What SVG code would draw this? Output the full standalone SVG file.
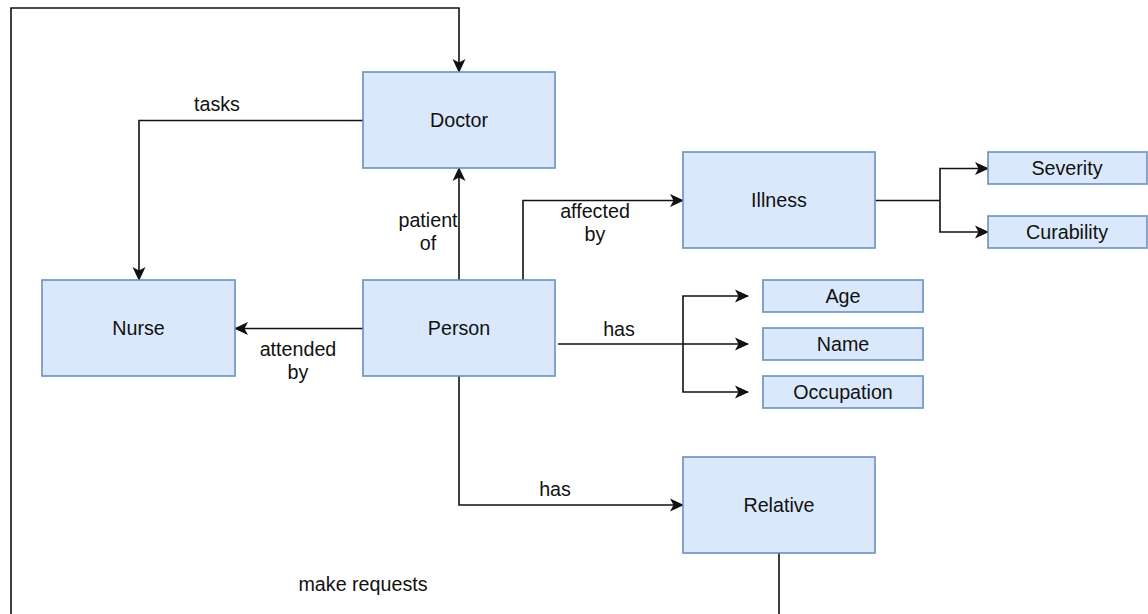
<svg xmlns="http://www.w3.org/2000/svg" width="1148" height="614" viewBox="0 0 1148 614">
<style>
.box{fill:#dae8fc;stroke:#6c8ebf;stroke-width:1.6}
.t{font-family:"Liberation Sans",Arial,Helvetica,sans-serif;font-size:19.7px;fill:#111;text-anchor:middle}
.e{fill:none;stroke:#111;stroke-width:1.6}
.a{marker-end:url(#arr)}
</style>
<defs>
<marker id="arr" markerUnits="userSpaceOnUse" viewBox="0 0 14 14" refX="13" refY="7" markerWidth="14" markerHeight="14" orient="auto">
<path d="M0,0.5 L14,7 L0,13.5 L3.5,7 Z" fill="#111"/>
</marker>
</defs>
<rect width="1148" height="614" fill="#fff"/>
<g id="connectors">
<path class="e a" d="M779,553 V640 H11 V8 H459 V72"/>
<path class="e a" d="M363,120.5 H139 V280"/>
<path class="e a" d="M459,280 V168"/>
<path class="e a" d="M523,280 V200.5 H683"/>
<path class="e a" d="M363,328.5 H235"/>
<path class="e a" d="M558,344 H748"/>
<path class="e a" d="M683,344 V296 H748"/>
<path class="e a" d="M683,344 V392 H748"/>
<path class="e" d="M875,200.5 H940"/>
<path class="e a" d="M940,200.5 V168.5 H988"/>
<path class="e a" d="M940,200.5 V232 H988"/>
<path class="e a" d="M459,376 V505 H683"/>
</g>
<g id="edge-labels">
<text class="t" x="217" y="111">tasks</text>
<text class="t" x="428" y="227">patient</text>
<text class="t" x="428" y="250">of</text>
<text class="t" x="595" y="218">affected</text>
<text class="t" x="595" y="241">by</text>
<text class="t" x="298" y="356">attended</text>
<text class="t" x="298" y="379">by</text>
<text class="t" x="619" y="336">has</text>
<text class="t" x="555" y="496">has</text>
<text class="t" x="363" y="591">make requests</text>
</g>
<g id="doctor"><rect class="box" x="363" y="72" width="192" height="96"/><text class="t" x="459" y="127">Doctor</text></g>
<g id="nurse"><rect class="box" x="42" y="280" width="193" height="96"/><text class="t" x="138.5" y="335">Nurse</text></g>
<g id="person"><rect class="box" x="363" y="280" width="192" height="96"/><text class="t" x="459" y="335">Person</text></g>
<g id="illness"><rect class="box" x="683" y="152" width="192" height="96"/><text class="t" x="779" y="207">Illness</text></g>
<g id="severity"><rect class="box" x="988" y="152" width="159" height="32"/><text class="t" x="1067" y="175">Severity</text></g>
<g id="curability"><rect class="box" x="988" y="216" width="159" height="32"/><text class="t" x="1067" y="239">Curability</text></g>
<g id="age"><rect class="box" x="763" y="280" width="160" height="32"/><text class="t" x="843" y="303">Age</text></g>
<g id="name"><rect class="box" x="763" y="328" width="160" height="32"/><text class="t" x="843" y="351">Name</text></g>
<g id="occupation"><rect class="box" x="763" y="376" width="160" height="32"/><text class="t" x="843" y="399">Occupation</text></g>
<g id="relative"><rect class="box" x="683" y="457" width="192" height="96"/><text class="t" x="779" y="512">Relative</text></g>
</svg>
